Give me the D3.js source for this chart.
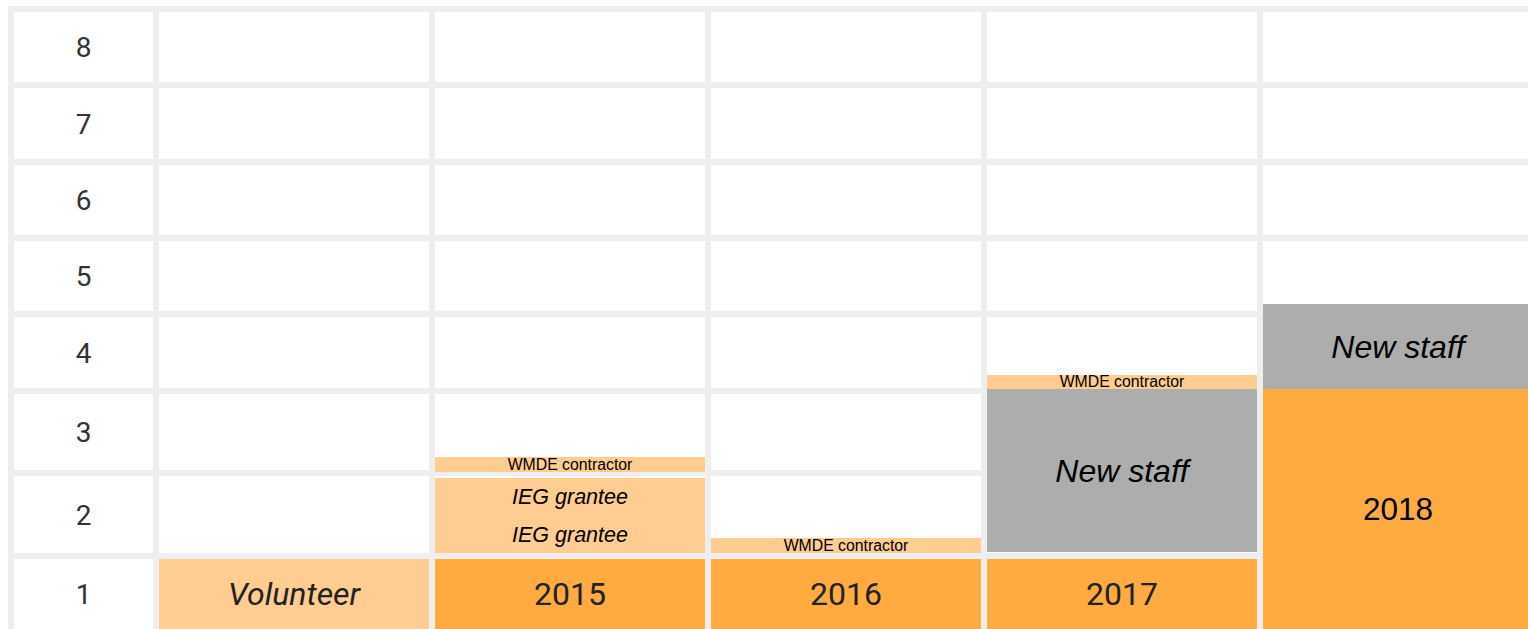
<!DOCTYPE html>
<html>
<head>
<meta charset="utf-8">
<script src="https://cdn.jsdelivr.net/npm/d3@7"></script>
<style>
  body { margin: 0; background: #fff; overflow: hidden; }
  svg { display: block; }
  rect { shape-rendering: crispEdges; }
</style>
</head>
<body>
<div id="chart"></div>
<script>
// row numbers (bottom to top) and the five columns
const rows = [1, 2, 3, 4, 5, 6, 7, 8];
const columns = ["A", "B", "C", "D", "E"];

// first row of cells
const firstRowLabels = ["Volunteer", "2015", "2016", "2017", null];
const firstRowKinds = ["light", "orange", "orange", "orange", null];

// stacked blocks, in row units
const blockCols   = ["B", "B", "B", "C", "D", "D", "E", "E"];
const blockFrom   = [1.04, 1.49, 2.01, 1.04, 1.05, 3.03, 0, 3.03];
const blockTo     = [1.49, 1.94, 2.2, 1.22, 3.03, 3.21, 3.03, 4.13];
const blockLabels = ["IEG grantee", "IEG grantee", "WMDE contractor", "WMDE contractor",
                     "New staff", "WMDE contractor", "2018", "New staff"];
const blockKinds  = ["light", "light", "light", "light", "gray", "light", "orange", "gray"];
const blockText   = ["roleSm", "roleSm", "note", "note", "role", "note", "year", "role"];

const colors = { light: "#ffcc91", orange: "#ffab40", gray: "#adadad", grid: "#eeeeee" };
const textStyles = {
  roleSm: { size: 21.5, italic: true },
  note:   { size: 15.8, italic: false },
  role:   { size: 32, italic: true },
  year:   { size: 31.5, italic: false }
};

const width = 1528, height = 629, gap = 6;
// grid line centres for row boundaries 0..8 (rows are not all the same height)
const lineY = [632, 556, 473, 391, 314, 238, 162, 85, 9];

const svg = d3.select("#chart").append("svg")
    .attr("width", width)
    .attr("height", height);

const y = d3.scaleLinear().domain(d3.range(0, 9)).range(lineY);
const x = d3.scaleBand().domain(columns).range([156, 156 + columns.length * 276]);

// grid background
svg.append("rect")
    .attr("x", 8).attr("y", 6)
    .attr("width", width).attr("height", height)
    .attr("fill", colors.grid);

// row header cells
svg.selectAll(".rowhead")
  .data(rows)
  .enter()
  .append("rect")
    .attr("x", 14)
    .attr("y", d => y(d) + gap / 2)
    .attr("width", 139)
    .attr("height", d => y(d - 1) - y(d) - gap)
    .attr("fill", "#fff");

svg.selectAll(".rowlabel")
  .data(rows)
  .enter()
  .append("text")
    .attr("x", 83.5)
    .attr("y", d => (y(d) + y(d - 1)) / 2)
    .attr("dy", "0.36em")
    .attr("text-anchor", "middle")
    .style("font-family", "Roboto")
    .style("font-size", "28px")
    .style("fill", "#333")
    .text(d => d);

// body cells
const cells = [];
rows.forEach(r => columns.forEach((c, i) => {
  cells.push({ row: r, col: c, kind: r === 1 ? firstRowKinds[i] : null, label: r === 1 ? firstRowLabels[i] : null });
}));

svg.selectAll(".cell")
  .data(cells)
  .enter()
  .append("rect")
    .attr("x", d => x(d.col) + gap / 2)
    .attr("y", d => y(d.row) + gap / 2)
    .attr("width", x.bandwidth() - gap)
    .attr("height", d => y(d.row - 1) - y(d.row) - gap)
    .attr("fill", d => d.kind ? colors[d.kind] : "#fff");

svg.selectAll(".celltext")
  .data(cells.filter(d => d.label))
  .enter()
  .append("text")
    .attr("x", d => x(d.col) + x.bandwidth() / 2)
    .attr("y", d => (y(d.row) + y(d.row - 1)) / 2 - 1)
    .attr("dy", "0.36em")
    .attr("text-anchor", "middle")
    .style("font-family", "Roboto")
    .style("font-size", "32px")
    .style("font-style", d => d.kind === "light" ? "italic" : "normal")
    .style("fill", "#222")
    .text(d => d.label);

// blocks
const blocks = blockCols.map((c, i) => ({
  col: c, from: blockFrom[i], to: blockTo[i],
  label: blockLabels[i], kind: blockKinds[i], style: textStyles[blockText[i]]
}));

svg.selectAll(".block")
  .data(blocks)
  .enter()
  .append("rect")
    .attr("x", d => x(d.col) + gap / 2)
    .attr("y", d => Math.round(y(d.to)))
    .attr("width", x.bandwidth() - gap)
    .attr("height", d => Math.round(y(d.from)) - Math.round(y(d.to)))
    .attr("fill", d => colors[d.kind]);

svg.selectAll(".blocktext")
  .data(blocks)
  .enter()
  .append("text")
    .attr("x", d => x(d.col) + x.bandwidth() / 2)
    .attr("y", d => (y(d.to) + Math.min(y(d.from), height)) / 2)
    .attr("dy", "0.36em")
    .attr("text-anchor", "middle")
    .style("font-family", "'Liberation Sans', Arial, sans-serif")
    .style("font-size", d => d.style.size + "px")
    .style("font-style", d => d.style.italic ? "italic" : "normal")
    .style("fill", "#000")
    .text(d => d.label);
</script>
</body>
</html>
